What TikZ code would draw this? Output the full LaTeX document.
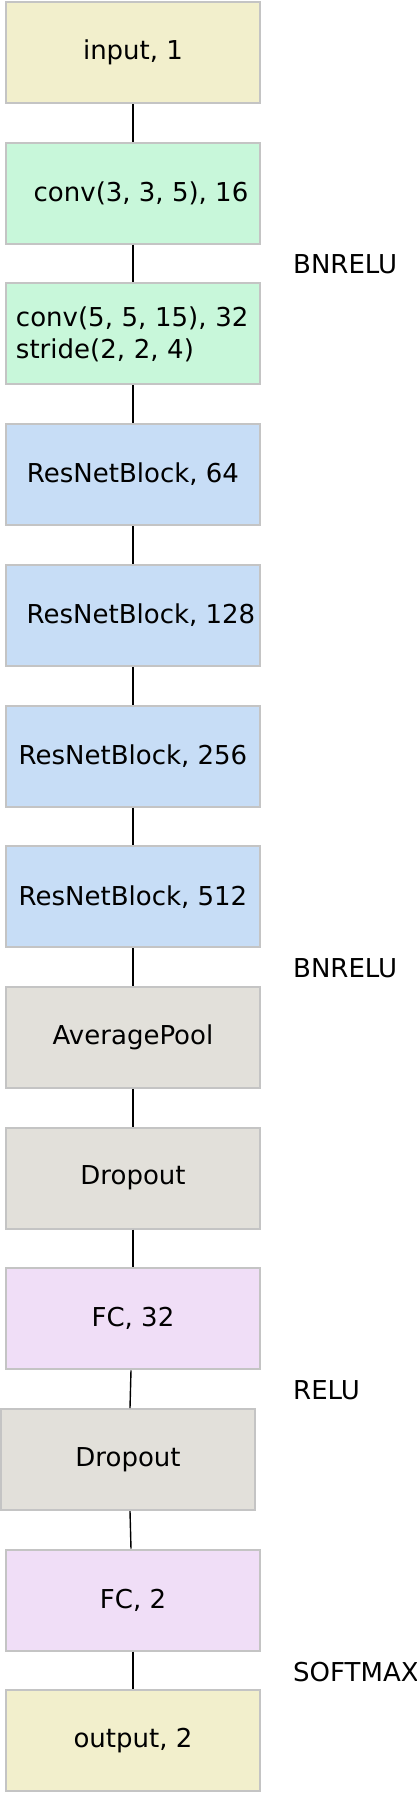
\documentclass[tikz,border=0pt]{standalone}
\usepackage{fontspec}
\setmainfont{DejaVu Sans}
\definecolor{cin}{HTML}{F2EFCC}
\definecolor{cconv}{HTML}{C8F7DA}
\definecolor{cres}{HTML}{C7DDF6}
\definecolor{cgray}{HTML}{E2E0DA}
\definecolor{cfc}{HTML}{F0DEF7}
\definecolor{cborder}{HTML}{C4C4C4}
\begin{document}
\begin{tikzpicture}[x=1pt,y=-1pt,
  box/.style={draw=cborder,line width=2pt,minimum width=254pt,minimum height=101pt,inner sep=0pt,
    font=\fontsize{26pt}{32pt}\selectfont,anchor=center},
  link/.style={line width=1.4pt,black},
  lab/.style={anchor=base west,inner sep=0pt,font=\fontsize{26pt}{32pt}\selectfont}]
\useasboundingbox (0,0) rectangle (416,1794);
\fill[white] (0,0) rectangle (416,1794);
\node[box,fill=cin] (inp) at (133,52.5) {input, 1};
\node[box,fill=cconv] (conv1) at (133,193.2) {\hspace*{16pt}conv(3, 3, 5), 16};
\node[box,fill=cconv,align=left,text width=234pt,inner xsep=0pt] (conv2) at (133,333.9) {\mbox{conv(5, 5, 15), 32}\\\mbox{stride(2, 2, 4)}};
\node[box,fill=cres] (res64) at (133,474.6) {ResNetBlock, 64};
\node[box,fill=cres] (res128) at (133,615.3) {\hspace*{16pt}ResNetBlock, 128};
\node[box,fill=cres] (res256) at (133,756) {ResNetBlock, 256};
\node[box,fill=cres] (res512) at (133,896.7) {ResNetBlock, 512};
\node[box,fill=cgray] (avg) at (133,1037.4) {AveragePool};
\node[box,fill=cgray] (drop1) at (133,1178.1) {Dropout};
\node[box,fill=cfc] (fc32) at (133,1318.8) {FC, 32};
\node[box,fill=cgray] (drop2) at (128,1459.5) {Dropout};
\node[box,fill=cfc] (fc2) at (133,1600.2) {FC, 2};
\node[box,fill=cin] (out) at (133,1740.9) {output, 2};
\draw[link] (inp.south) -- (conv1.north);
\draw[link] (conv1.south) -- (conv2.north);
\draw[link] (conv2.south) -- (res64.north);
\draw[link] (res64.south) -- (res128.north);
\draw[link] (res128.south) -- (res256.north);
\draw[link] (res256.south) -- (res512.north);
\draw[link] (res512.south) -- (avg.north);
\draw[link] (avg.south) -- (drop1.north);
\draw[link] (drop1.south) -- (fc32.north);
\draw[link] ([xshift=-2pt]fc32.south) -- ([xshift=2pt]drop2.north);
\draw[link] ([xshift=2pt]drop2.south) -- ([xshift=-2pt]fc2.north);
\draw[link] (fc2.south) -- (out.north);
\node[lab] (l1) at (293,273) {BNRELU};
\node[lab] (l2) at (293,977) {BNRELU};
\node[lab] (l3) at (293,1399) {RELU};
\node[lab] (l4) at (293,1681) {SOFTMAX};
\end{tikzpicture}
\end{document}
